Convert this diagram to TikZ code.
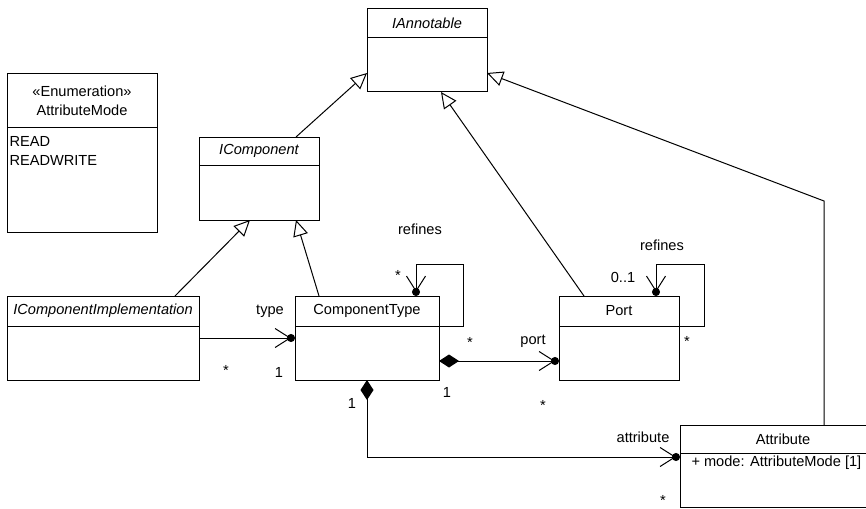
\documentclass[tikz,border=0pt]{standalone}
\usepackage{fontspec}
\setmainfont{Liberation Sans}
\usetikzlibrary{positioning,arrows.meta}
\newcommand{\umlfont}{\fontsize{14.6}{19}\selectfont}

\begin{document}
\begin{tikzpicture}[x=1pt, y=-1pt, node distance=0pt, line width=1pt, font=\umlfont,
		head/.style = {draw, outer sep=0pt, inner sep=2pt, minimum height=29pt},
		body/.style = {draw, outer sep=0pt, inner sep=0pt, minimum height=54pt},
		abs/.style = {font=\umlfont\itshape},
		memb/.style = {inner sep=2pt, align=left, anchor=north west},
		lbl/.style = {inner sep=1pt},
		gen/.style = {-{Triangle[open, length=16pt, width=15pt]}},
		nav/.style = {-{Straight Barb[length=15pt, width=19pt, sep=-4pt]Circle[length=8pt]}},
		comp/.style = {{Diamond[length=20pt, width=13pt]}-{Straight Barb[length=15pt, width=19pt, sep=-4pt]Circle[length=8pt]}}]
		\useasboundingbox (0,0) rectangle (866,508);

		\node[head, abs, minimum width=120pt, anchor=north west] (ann) at (367,9) {IAnnotable};
		\node[body, minimum width=120pt] (annb) [below=of ann] {};
		\node[head, minimum width=150pt, minimum height=53pt, align=center, anchor=north west] (enm) at (7,74) {«Enumeration»\\AttributeMode};
		\node[body, minimum width=150pt, minimum height=105pt] (enmb) [below=of enm] {};
		\node[memb] (lit) at ([yshift=-7pt]enmb.north west) {READ\\READWRITE};
		\node[head, abs, minimum width=120pt, minimum height=28pt, anchor=north west] (icomp) at (199,137) {IComponent};
		\node[body, minimum width=120pt, minimum height=55pt] (icompb) [below=of icomp] {};
		\node[head, abs, minimum width=192pt, minimum height=30pt, anchor=north west] (impl) at (7,296) {IComponentImplementation};
		\node[body, minimum width=192pt] (implb) [below=of impl] {};
		\node[head, minimum width=144pt, minimum height=30pt, anchor=north west] (ctype) at (295,296) {ComponentType};
		\node[body, minimum width=144pt] (ctypeb) [below=of ctype] {};
		\node[head, minimum width=120pt, minimum height=30pt, anchor=north west] (port) at (559,296) {Port};
		\node[body, minimum width=120pt] (portb) [below=of port] {};
		\node[head, minimum width=206pt, minimum height=28pt, anchor=north west] (attr) at (680,425) {Attribute};
		\node[body, minimum width=206pt] (attrb) [below=of attr] {};
		\node[memb] (mode) at ([xshift=9pt]attrb.north west) {+ mode: AttributeMode [1]};

		\draw[gen] ([xshift=37pt]icomp.north) -- ([yshift=-8pt]annb.west);
		\draw[gen] ([xshift=72pt]impl.north) -- ([xshift=-9pt]icompb.south);
		\draw[gen] ([xshift=-48pt]ctype.north) -- ([xshift=37pt]icompb.south);
		\draw[gen] ([xshift=-35pt]port.north) -- ([xshift=14pt]annb.south);
		\draw[gen] ([xshift=41pt]attr.north) -- ++(0,-224) -- ([yshift=-8pt]annb.east);
		\draw[nav] ([yshift=15pt]implb.east) -- ([yshift=15pt]ctypeb.west);
		\draw[nav] (ctype.south east) -- ++(24,0) -- ++(0,-62) -| ([xshift=49pt]ctype.north);
		\draw[nav] (port.south east) -- ++(25,0) -- ++(0,-62) -| ([xshift=37pt]port.north);
		\draw[comp] ([yshift=-8pt]ctypeb.east) -- ([yshift=-8pt]portb.west);
		\draw[comp] (ctypeb.south) |- ([yshift=23pt]attrb.west);

		\node[lbl] (ref1) at (420,229) {refines};
		\node[lbl] (s1) at (398,275) {*};
		\node[lbl] (s2) at (470,342) {*};
		\node[lbl] (rtype) at (270,311) {type};
		\node[lbl] (s3) at (226,370) {*};
		\node[lbl] (o1) at (279,372) {1};
		\node[lbl] (o2) at (447,392) {1};
		\node[lbl] (o3) at (352,403) {1};
		\node[lbl] (rport) at (533,341) {port};
		\node[lbl] (s4) at (543,405) {*};
		\node[lbl] (ref2) at (662,245) {refines};
		\node[lbl] (r01) at (623,277) {0..1};
		\node[lbl] (s5) at (687,341) {*};
		\node[lbl] (rattr) at (643,437) {attribute};
		\node[lbl] (s6) at (663,500) {*};

	\end{tikzpicture}
\end{document}
